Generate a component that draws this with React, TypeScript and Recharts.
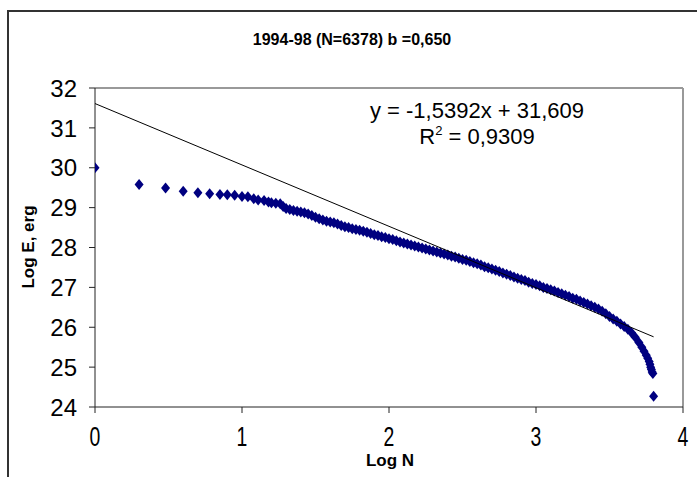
import { ScatterChart, Scatter, XAxis, YAxis, ReferenceLine } from "recharts";

// Log N (rank) and Log E
const logN = [
  0.0, 0.3, 0.48, 0.6, 0.7, 0.78, 0.85, 0.9, 0.95, 1.0,
  1.04, 1.08, 1.11, 1.15, 1.18, 1.2, 1.23, 1.26, 1.28,
  1.3, 1.325, 1.35, 1.375, 1.4, 1.425, 1.45, 1.475, 1.5, 1.525,
  1.55, 1.575, 1.6, 1.625, 1.65, 1.675, 1.7, 1.725, 1.75, 1.775,
  1.8, 1.825, 1.85, 1.875, 1.9, 1.925, 1.95, 1.975, 2.0, 2.025,
  2.05, 2.075, 2.1, 2.125, 2.15, 2.175, 2.2, 2.225, 2.25, 2.275,
  2.3, 2.325, 2.35, 2.375, 2.4, 2.425, 2.45, 2.475, 2.5, 2.525,
  2.55, 2.575, 2.6, 2.625, 2.65, 2.675, 2.7, 2.725, 2.75, 2.775,
  2.8, 2.825, 2.85, 2.875, 2.9, 2.925, 2.95, 2.975, 3.0, 3.025,
  3.05, 3.075, 3.1, 3.125, 3.15, 3.175, 3.2, 3.225, 3.25, 3.275,
  3.3, 3.325, 3.35, 3.375, 3.4, 3.425, 3.45, 3.475, 3.5, 3.525,
  3.55, 3.575, 3.6, 3.625, 3.65, 3.675, 3.7, 3.72, 3.735, 3.75,
  3.76, 3.77, 3.775, 3.78, 3.785, 3.79, 3.795, 3.8,
];
const logE = [
  30.0, 29.58, 29.49, 29.41, 29.37, 29.35, 29.33, 29.32, 29.31, 29.28,
  29.27, 29.22, 29.19, 29.18, 29.14, 29.12, 29.11, 29.1, 29.03,
  28.98, 28.95, 28.93, 28.91, 28.89, 28.87, 28.84, 28.8, 28.76, 28.72,
  28.69, 28.66, 28.64, 28.62, 28.59, 28.55, 28.52, 28.5, 28.47, 28.45,
  28.43, 28.41, 28.38, 28.35, 28.32, 28.3, 28.27, 28.25, 28.22, 28.2,
  28.17, 28.14, 28.11, 28.09, 28.06, 28.04, 28.01, 27.99, 27.96, 27.94,
  27.91, 27.89, 27.86, 27.84, 27.81, 27.78, 27.76, 27.73, 27.7, 27.68,
  27.65, 27.62, 27.59, 27.56, 27.52, 27.49, 27.46, 27.43, 27.4, 27.36,
  27.33, 27.3, 27.26, 27.23, 27.2, 27.17, 27.13, 27.1, 27.07, 27.04,
  27.0, 26.97, 26.94, 26.91, 26.87, 26.84, 26.8, 26.77, 26.73, 26.7,
  26.66, 26.62, 26.58, 26.54, 26.5, 26.46, 26.4, 26.34, 26.27, 26.21,
  26.15, 26.08, 26.02, 25.95, 25.86, 25.75, 25.62, 25.5, 25.4, 25.3,
  25.22, 25.14, 25.07, 25.0, 24.94, 24.88, 24.84, 24.27,
];

// trend line endpoints
const trendN = [0, 3.8];
const trendE = [31.61, 25.76];

const xTicks = [0, 1, 2, 3, 4];
const yTicks = [24, 25, 26, 27, 28, 29, 30, 31, 32];

const title = "1994-98 (N=6378) b =0,650";
const equation = "y = -1,5392x + 31,609";
const rSquared = "0,9309";

const points = logN.map((x, i) => ({ x, y: logE[i] }));
const trend = trendN.map((x, i) => ({ x, y: trendE[i] }));

const NAVY = "#000080";
const FONT = "'Liberation Sans', Arial, sans-serif";

function Diamond(props: any) {
  const { cx, cy } = props;
  if (cx == null || cy == null) return <g />;
  return (
    <path
      d={`M${cx},${cy - 5.5}L${cx + 4.5},${cy}L${cx},${cy + 5.5}L${cx - 4.5},${cy}Z`}
      fill={NAVY}
    />
  );
}

function XTick(props: any) {
  const { x, y, payload } = props;
  return (
    <g transform={`translate(${x},${y}) scale(0.72,1)`}>
      <text x={0} y={0} dy="0.71em" textAnchor="middle" fontSize={27} fill="#000" fontFamily={FONT}>
        {payload.value}
      </text>
    </g>
  );
}

function YTick(props: any) {
  const { x, y, payload } = props;
  return (
    <text x={x} y={y} dy="0.36em" textAnchor="end" fontSize={24} fill="#000" fontFamily={FONT}>
      {payload.value}
    </text>
  );
}

export default function App() {
  return (
    <div
      style={{
        position: "absolute",
        left: 0,
        top: 0,
        width: 697,
        height: 477,
        overflow: "hidden",
        background: "#fff",
        fontFamily: FONT,
      }}
    >
      <div
        style={{
          position: "absolute",
          left: 7,
          top: 10,
          width: 720,
          height: 500,
          border: "2px solid #333",
          boxSizing: "border-box",
        }}
      />
      <div style={{ position: "absolute", left: 0, top: 0 }}>
        <ScatterChart width={697} height={477} margin={{ top: 88, right: 14, bottom: 40, left: 35 }}>
          <XAxis
            type="number"
            dataKey="x"
            domain={[0, 4]}
            ticks={xTicks}
            allowDataOverflow
            height={30}
            tickSize={6}
            tickMargin={14}
            axisLine={{ stroke: "#222" }}
            tickLine={{ stroke: "#222" }}
            tick={<XTick />}
          />
          <YAxis
            type="number"
            dataKey="y"
            domain={[24, 32]}
            ticks={yTicks}
            allowDataOverflow
            width={60}
            tickSize={6}
            tickMargin={12}
            axisLine={{ stroke: "#222" }}
            tickLine={{ stroke: "#222" }}
            tick={<YTick />}
          />
          <ReferenceLine y={32} stroke="#999" strokeWidth={2} />
          <ReferenceLine x={4} stroke="#999" strokeWidth={2} />
          <Scatter data={points} shape={<Diamond />} isAnimationActive={false} />
          <Scatter
            data={trend}
            line={{ stroke: "#000", strokeWidth: 1 }}
            shape={() => <g />}
            isAnimationActive={false}
          />
        </ScatterChart>
      </div>
      <div
        style={{
          position: "absolute",
          left: 352,
          top: 32,
          transform: "translateX(-50%)",
          fontSize: 16,
          lineHeight: "16px",
          fontWeight: "bold",
          whiteSpace: "nowrap",
        }}
      >
        {title}
      </div>
      <div
        style={{
          position: "absolute",
          left: 390,
          top: 452,
          transform: "translateX(-50%)",
          fontSize: 17,
          lineHeight: "17px",
          fontWeight: "bold",
          whiteSpace: "nowrap",
        }}
      >
        Log N
      </div>
      <div
        style={{
          position: "absolute",
          left: 28,
          top: 247,
          transform: "translate(-50%,-50%) rotate(-90deg)",
          fontSize: 17,
          lineHeight: "17px",
          fontWeight: "bold",
          whiteSpace: "nowrap",
        }}
      >
        Log E, erg
      </div>
      <div
        style={{
          position: "absolute",
          left: 477,
          top: 98,
          transform: "translateX(-50%)",
          fontSize: 22,
          lineHeight: "26px",
          whiteSpace: "nowrap",
          textAlign: "center",
        }}
      >
        <div>{equation}</div>
        <div>
          R<sup style={{ fontSize: 13, verticalAlign: "9px", lineHeight: 0 }}>2</sup> = {rSquared}
        </div>
      </div>
    </div>
  );
}
